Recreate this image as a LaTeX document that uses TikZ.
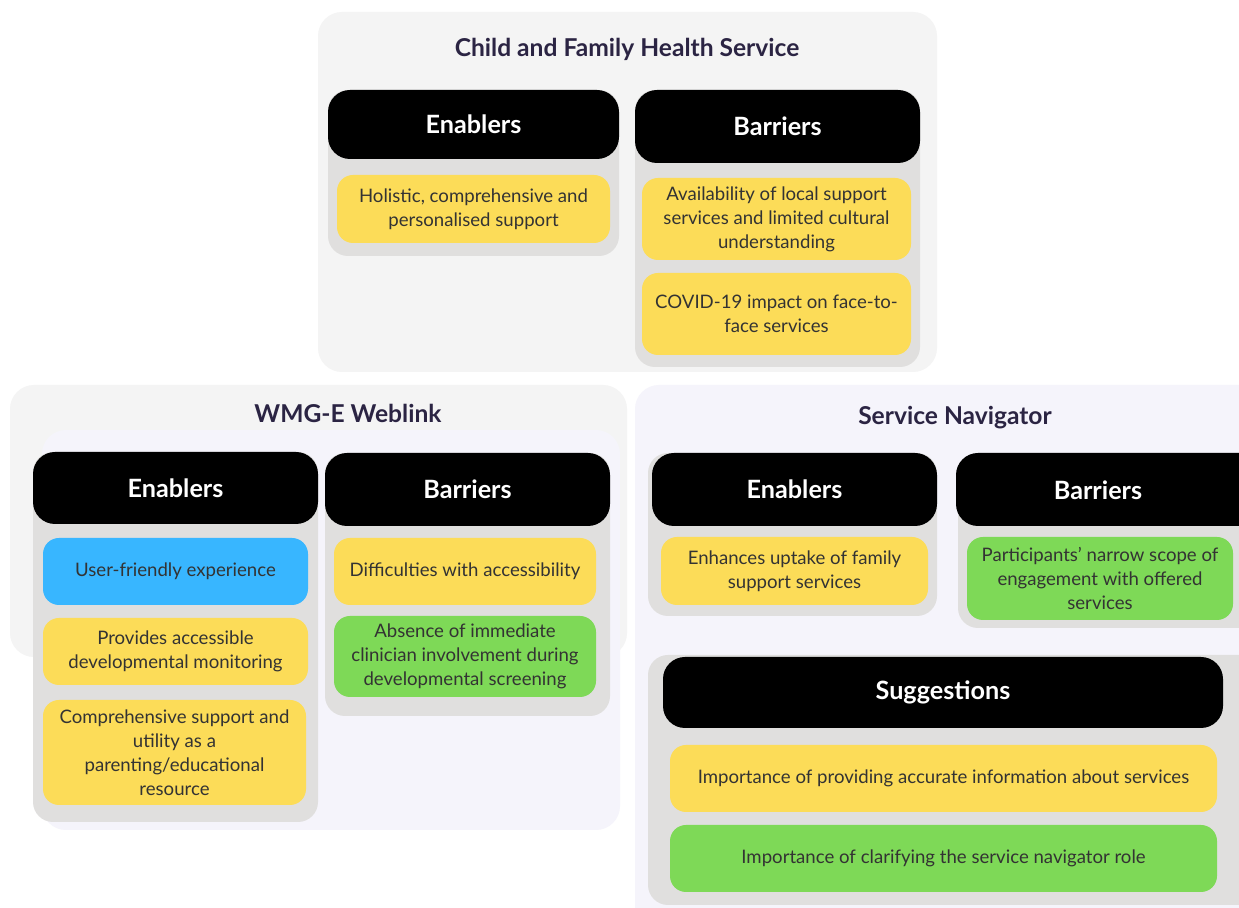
\documentclass[tikz,border=0pt]{standalone}
\usepackage{fontspec}
\setmainfont{Lato}
\definecolor{panelgray}{HTML}{F4F4F4}
\definecolor{panellav}{HTML}{F5F4FB}
\definecolor{cardgray}{HTML}{E0DFDE}
\definecolor{yel}{HTML}{FCDC58}
\definecolor{grn}{HTML}{7ED957}
\definecolor{blu}{HTML}{38B6FF}
\definecolor{navy}{HTML}{2B2443}
\definecolor{ink}{HTML}{333333}

\tikzset{
  panelbg/.style={rounded corners=12pt},
  card/.style={fill=cardgray, rounded corners=10pt},
  headbox/.style={fill=black, rounded corners=11pt},
  itembox/.style={rounded corners=8pt},
  paneltitle/.style={font=\bfseries\fontsize{12.3}{14}\selectfont, text=navy},
  headtxt/.style={font=\bfseries\fontsize{12.6}{14}\selectfont, text=white},
  itemtxt/.style={font=\fontsize{9.3}{12}\selectfont, text=ink, align=center},
}

% #1 name, #2-#5 corners (x1,y1,x2,y2), #6 box style, #7 text style, #8 text
\newcommand\labelbox[8]{%
  \path[#6] (#2,#3) rectangle (#4,#5);
  \node[#7] (#1) at ({(#2+#4)/2},{(#3+#5)/2}) {#8};}

\begin{document}
\begin{tikzpicture}[x=0.5pt, y=-0.5pt]
\useasboundingbox (0,0) rectangle (1239,908);
\clip (0,0) rectangle (1239,908);
\fill[white] (0,0) rectangle (1239,908);

% ---------- Child and Family Health Service ----------
\path[panelbg, fill=panelgray] (318,12) rectangle (937,372);
\node[paneltitle] (cfhs) at (627,49) {Child and Family Health Service};

\path[card] (328,90) rectangle (619,256);
\labelbox{cfhsEn}{328}{90}{619}{159}{headbox}{headtxt}{Enablers}
\labelbox{cfhsE1}{337}{175}{610}{243}{itembox, fill=yel}{itemtxt}{Holistic, comprehensive and\\personalised support}

\path[card] (635,90) rectangle (920,367);
\labelbox{cfhsBa}{635}{90}{920}{163}{headbox}{headtxt}{Barriers}
\labelbox{cfhsB1}{642}{178}{911}{260}{itembox, fill=yel}{itemtxt}{Availability of local support\\services and limited cultural\\understanding}
\labelbox{cfhsB2}{642}{273}{911}{355}{itembox, fill=yel}{itemtxt}{COVID-19 impact on face-to-\\face services}

% ---------- WMG-E Weblink ----------
\path[panelbg, fill=panelgray] (10,385) rectangle (627,657);
\path[panelbg, fill=panellav] (42,430) rectangle (620,830);
\node[paneltitle] (wmg) at (348,413) {WMG-E Weblink};

\path[card] (33,452) rectangle (318,822);
\labelbox{wmgEn}{33}{452}{318}{524}{headbox}{headtxt}{Enablers}
\labelbox{wmgE1}{43}{538}{308}{605}{itembox, fill=blu}{itemtxt}{User-friendly experience}
\labelbox{wmgE2}{43}{618}{308}{685}{itembox, fill=yel}{itemtxt}{Provides accessible\\developmental monitoring}
\labelbox{wmgE3}{43}{700}{306}{805}{itembox, fill=yel}{itemtxt}{Comprehensive support and\\utility as a\\parenting/educational\\resource}

\path[card] (325,453) rectangle (610,716);
\labelbox{wmgBa}{325}{453}{610}{526}{headbox}{headtxt}{Barriers}
\labelbox{wmgB1}{334}{538}{596}{605}{itembox, fill=yel}{itemtxt}{Difficulties with accessibility}
\labelbox{wmgB2}{334}{616}{596}{697}{itembox, fill=grn}{itemtxt}{Absence of immediate\\clinician involvement during\\developmental screening}

% ---------- Service Navigator ----------
\path[panelbg, fill=panellav] (635,385) rectangle (1270,940);
\node[paneltitle] (sn) at (955,418) {Service Navigator};

\path[card] (648,453) rectangle (937,616);
\labelbox{snEn}{652}{453}{937}{526}{headbox}{headtxt}{Enablers}
\labelbox{snE1}{661}{537}{928}{605}{itembox, fill=yel}{itemtxt}{Enhances uptake of family\\support services}

% this column runs past the right edge of the page
\path[card] (958,453) rectangle (1270,628);
\path[headbox] (956,453) rectangle (1270,526);
\node[headtxt] (snBa) at (1098,490) {Barriers};
\labelbox{snB1}{967}{537}{1233}{620}{itembox, fill=grn}{itemtxt}{Participants’ narrow scope of\\engagement with offered\\services}

\path[card] (648,655) rectangle (1270,905);
\labelbox{snSu}{663}{657}{1223}{728}{headbox}{headtxt}{Suggestions}
\labelbox{snS1}{670}{745}{1217}{812}{itembox, fill=yel}{itemtxt}{Importance of providing accurate information about services}
\labelbox{snS2}{670}{825}{1217}{892}{itembox, fill=grn}{itemtxt}{Importance of clarifying the service navigator role}
\end{tikzpicture}
\end{document}
